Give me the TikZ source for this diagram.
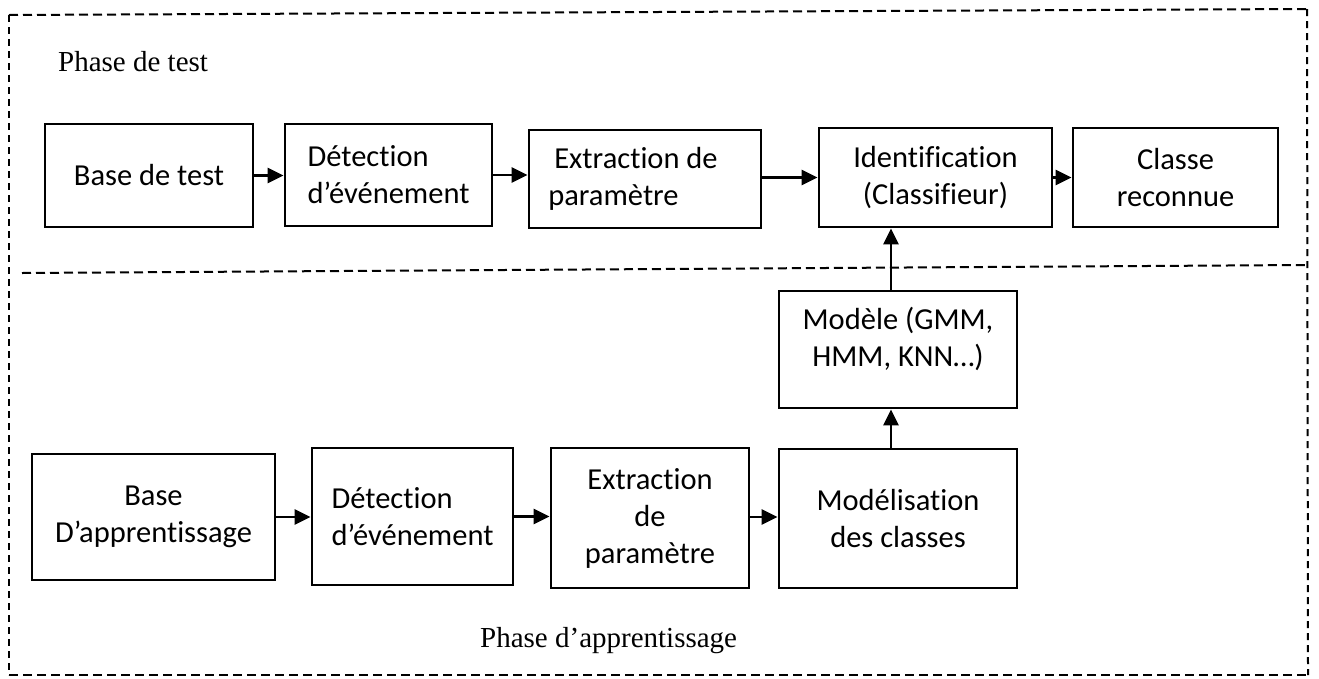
\documentclass[tikz,border=0pt]{standalone}
\usepackage{fontspec}
\setmainfont{Carlito}[Ligatures={NoCommon}]
\newfontfamily\serifphase{Liberation Serif}
\usetikzlibrary{arrows.meta,calc}
\begin{document}
\begin{tikzpicture}[x=1pt,y=-1pt,
  box/.style={draw=black,line width=2.8pt,rectangle,inner sep=0pt,
    font=\fontsize{30.5}{37}\selectfont,align=center},
  flow/.style={line width=2.8pt,-{Triangle[length=16pt,width=15pt]}},
  frame/.style={line width=2pt,dash pattern=on 9pt off 5pt},
  phase/.style={font=\serifphase\fontsize{29}{34}\selectfont,anchor=base west,inner sep=0pt}]
\useasboundingbox (0,0) rectangle (1319,678);
% dashed frame
\coordinate (ftl) at (9,15);
\coordinate (ftr) at (1307,9);
\coordinate (fbr) at (1308,675);
\coordinate (fbl) at (9,675);
\coordinate (ml) at (22,273);
\coordinate (mr) at (1307,265);
\draw[frame] (ftl) -- (ftr);
\draw[frame,dash pattern=on 7pt off 5pt] (ftr) -- (fbr);
\draw[frame] (fbl) -- (fbr);
\draw[frame,dash pattern=on 7pt off 5pt] (ftl) -- (fbl);
\draw[frame] (ml) -- (mr);
% labels
\node[phase] (lt) at (58,71) {Phase de test};
\node[phase] (la) at (480,647) {Phase d’apprentissage};
% top row
\node[box,minimum width=208pt,minimum height=103pt] (t1) at (149,175.5) {Base de test};
\node[box,minimum width=207pt,minimum height=102pt,align=left] (t2) at (388.5,175) {Détection\\d’événement};
\node[box,minimum width=232pt,minimum height=98pt,align=left] (t3) at (645,179) {\hspace*{6pt}Extraction de\hspace*{24pt}\\paramètre};
\node[box,minimum width=233pt,minimum height=99pt] (t4) at (935.5,177.5) {Identification\\(Classifieur)};
\node[box,minimum width=205pt,minimum height=99pt] (t5) at (1175.5,177.5) {Classe\\reconnue};
% model
\node[box,minimum width=238pt,minimum height=117pt] (m) at (898,349.5) {};
\node[inner sep=0pt,font=\fontsize{30.5}{37}\selectfont,align=center] (mt) at (898,339) {Modèle (GMM,\\HMM, KNN…)};
% bottom row
\node[box,minimum width=243pt,minimum height=126pt] (a) at (153.5,517) {Base\\D’apprentissage};
\node[box,minimum width=201pt,minimum height=137pt,align=left] (b) at (412.5,516.5) {Détection\\d’événement};
\node[box,minimum width=198pt,minimum height=140pt] (c) at (650,518) {Extraction\\de\\paramètre};
\node[box,minimum width=238pt,minimum height=139pt] (d) at (898,518.5) {Modélisation\\des classes};
% arrows
\draw[flow] (t1.east) -- (t1.east -| t2.west);
\draw[flow] (t2.east) -- (t2.east -| t3.west);
\draw[flow] (t3.east |- t5.west) -- (t4.west |- t5.west);
\draw[flow] (t4.east |- t5.west) -- (t5.west);
\draw[flow] (a.east) -- (a.east -| b.west);
\draw[flow] (b.east) -- (b.east -| c.west);
\draw[flow] (c.east |- a.east) -- (d.west |- a.east);
\draw[flow] ([xshift=-7pt]d.north) -- ([xshift=-7pt]m.south);
\draw[flow] ([xshift=-7pt]m.north) -- ([xshift=-7pt]m.north |- t4.south);
\end{tikzpicture}
\end{document}
